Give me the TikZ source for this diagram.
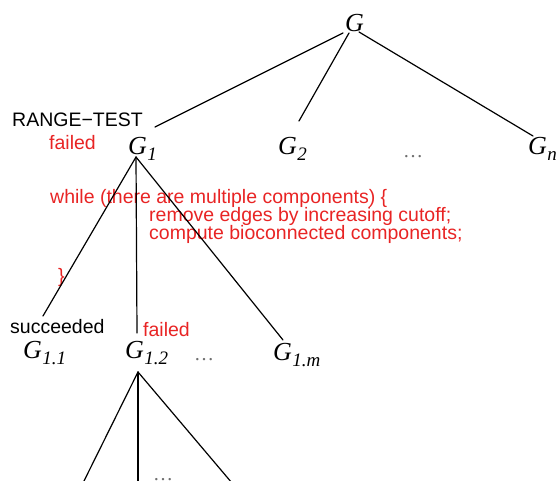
\documentclass[tikz,border=0pt]{standalone}
\usepackage{fontspec}
\setmainfont{Liberation Serif}
\setsansfont{Liberation Sans}
\definecolor{codered}{RGB}{232,36,36}
\definecolor{dotgray}{RGB}{110,110,110}
% Italic graph name with an italic subscript
\newcommand\Gname[1]{{\fontsize{26}{26}\selectfont\itshape G}\kern0.5pt\raisebox{-6pt}{\fontsize{19}{19}\selectfont\itshape #1}}
\begin{document}
\begin{tikzpicture}[x=1pt,y=-1pt,
  gnode/.style={inner sep=0pt,anchor=base west},
  note/.style={inner sep=0pt,anchor=base west,font=\sffamily\fontsize{19.5}{19.5}\selectfont},
  rednote/.style={note,text=codered},
  dots/.style={inner sep=0pt,anchor=base west,text=dotgray,font=\fontsize{20}{20}\selectfont},
  edge/.style={line width=1.2pt,line cap=round}]
\useasboundingbox (0,0) rectangle (560,481);
\clip (0,0) rectangle (560,481);

% tree nodes
\node[gnode] (G)   at (345,32)  {{\fontsize{26}{26}\selectfont\itshape G}};
\node[gnode] (G1)  at (128,155) {\Gname{1}};
\node[gnode] (G2)  at (278,155) {\Gname{2}};
\node[dots]  (d1)  at (403,158) {…};
\node[gnode] (Gn)  at (528,155) {\Gname{n}};
\node[gnode] (G11) at (23,358)  {\Gname{1.1}};
\node[gnode] (G12) at (125,358) {\Gname{1.2}};
\node[dots]  (d2)  at (194,360) {…};
\node[gnode] (G1m) at (273,360) {\Gname{1.m}};
\node[dots]  (d3)  at (153,480) {…};

% annotations
\node[note]    (rt)   at (12,127)  {RANGE−TEST};
\node[rednote] (f1)   at (49,150)  {failed};
\node[rednote] (w1)   at (50,204)  {while (there are multiple components) \{};
\node[rednote] (w2)   at (149,222) {remove edges by increasing cutoff;};
\node[rednote] (w3)   at (149,240) {compute bioconnected components;};
\node[rednote] (w4)   at (58,283)  {\}};
\node[note]    (succ) at (10,334)  {succeeded};
\node[rednote] (f2)   at (143,337) {failed};

% connector end points
\coordinate (Gb1) at (343,33);
\coordinate (Gb2) at (349,33);
\coordinate (Gb3) at (359,32);
\coordinate (G1t) at (155,127);
\coordinate (G2t) at (299,121);
\coordinate (Gnt) at (533,136);
\coordinate (G1b) at (136,157);
\coordinate (G11t) at (43,316);
\coordinate (G12t) at (137,333);
\coordinate (G1mt) at (283,340);
\coordinate (G12b) at (138,372);
\coordinate (L1) at (83,483);
\coordinate (L2) at (138,483);
\coordinate (L3) at (232,483);

% edges
\draw[edge] (Gb1) -- (G1t);
\draw[edge] (Gb2) -- (G2t);
\draw[edge] (Gb3) -- (Gnt);
\draw[edge] (G1b) -- (G11t);
\draw[edge] (G1b) -- (G12t);
\draw[edge] (G1b) -- (G1mt);
\draw[edge] (G12b) -- (L1);
\draw[edge] (G12b) -- (L2);
\draw[edge] (G12b) -- (L3);
\end{tikzpicture}
\end{document}
